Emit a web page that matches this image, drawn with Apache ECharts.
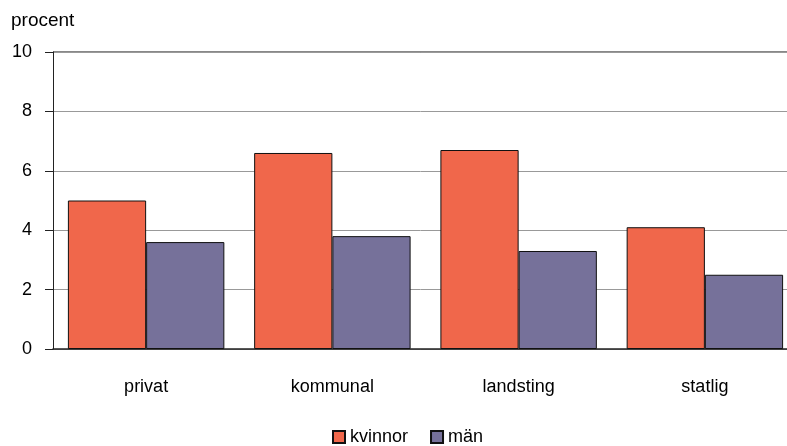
<!DOCTYPE html>
<html><head><meta charset="utf-8">
<script src="https://cdn.jsdelivr.net/npm/echarts@6/dist/echarts.min.js"></script>
<style>html,body{margin:0;padding:0;background:#fff}#c{width:787px;height:446px}</style>
</head><body><div id="c"></div>
<script>
const categories = ['privat', 'kommunal', 'landsting', 'statlig'];
const kvinnor = [5.0, 6.6, 6.7, 4.1];
const man = [3.6, 3.8, 3.3, 2.5];
const yTicks = [0, 2, 4, 6, 8, 10];
const seriesNames = ['kvinnor', 'män'];

const chart = echarts.init(document.getElementById('c'));
const font = 'Liberation Sans, Arial, sans-serif';
chart.setOption({
  animation: false,
  textStyle: { fontFamily: font },
  grid: { left: 53, width: 745, top: 52, height: 297, outerBoundsMode: 'none', containLabel: false },
  legend: {
    bottom: 0, left: 332, padding: 0, itemWidth: 12, itemHeight: 12, itemGap: 22, icon: 'rect',
    textStyle: { fontSize: 18, color: '#000', fontFamily: font },
    data: seriesNames
  },
  xAxis: {
    type: 'category', data: categories,
    axisLine: { lineStyle: { color: '#222', width: 1.5 } },
    axisTick: { show: false },
    axisLabel: { fontSize: 18, color: '#000', margin: 29 }
  },
  yAxis: {
    type: 'value', min: yTicks[0], max: yTicks[yTicks.length - 1], interval: 2,
    name: 'procent', nameLocation: 'end', nameGap: 22,
    nameTextStyle: { fontSize: 19, color: '#000', align: 'left', padding: [0, 0, 0, -42] },
    axisLine: { show: true, lineStyle: { color: '#222', width: 1 } },
    axisTick: { show: true, length: 8, lineStyle: { color: '#222' } },
    axisLabel: { fontSize: 18, color: '#000', margin: 21 },
    splitLine: { lineStyle: { color: '#999', width: 1 } }
  },
  series: [
    { name: seriesNames[0], type: 'bar', data: kvinnor, barGap: '0%', barCategoryGap: '16%',
      itemStyle: { color: '#F0674B', borderColor: '#111', borderWidth: 1 } },
    { name: seriesNames[1], type: 'bar', data: man,
      itemStyle: { color: '#76719A', borderColor: '#111', borderWidth: 1 } }
  ],
  graphic: [{ type: 'line', shape: { x1: 53, y1: 52, x2: 787, y2: 52 }, style: { stroke: '#111', lineWidth: 1 } }]
});
</script></body></html>
